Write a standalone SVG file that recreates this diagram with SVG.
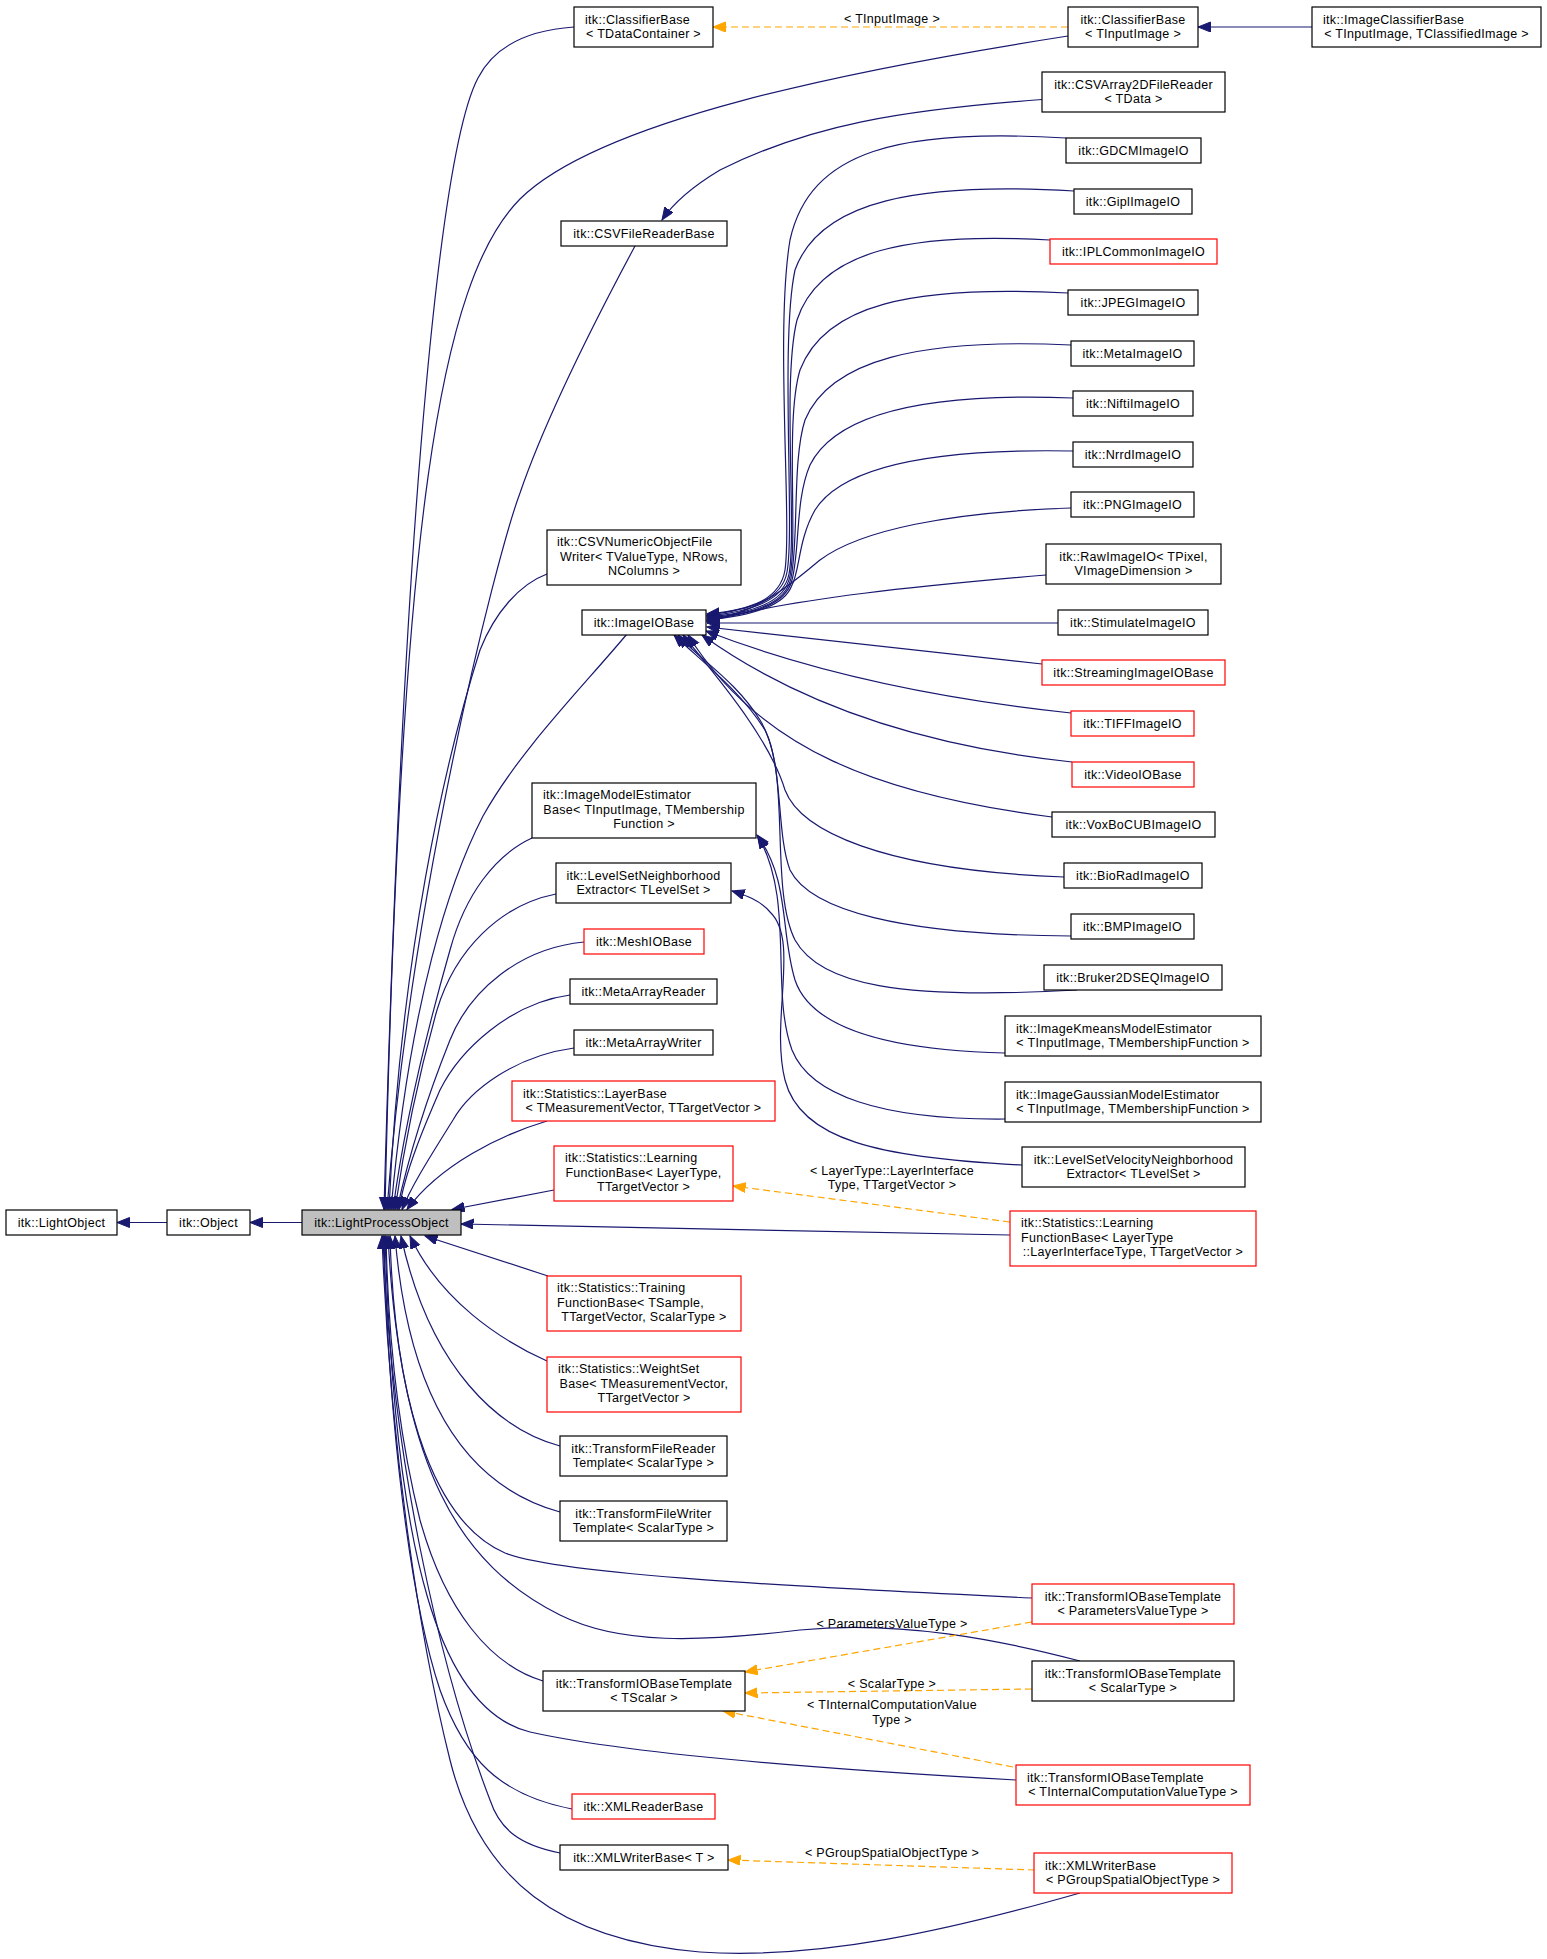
<svg xmlns="http://www.w3.org/2000/svg" width="1547" height="1959" viewBox="0 0 1547 1959">
<defs>
<style>
.node rect{fill:#ffffff;stroke:#000000;stroke-width:1.2}
.node.red rect{stroke:#ff0000}
.node.cur rect{fill:#bfbfbf}
text{font-family:"Liberation Sans",Arial,Helvetica,sans-serif;font-size:12.5px;letter-spacing:0.3px;fill:#000000}
.m{text-anchor:middle}
.s{text-anchor:start}
#edges path{fill:none;stroke:#191970;stroke-width:1.2}
#edges path.d{stroke:#ffa500;stroke-dasharray:7,4}
</style>
<marker id="arr" markerUnits="userSpaceOnUse" markerWidth="14" markerHeight="11" refX="12.5" refY="5" orient="auto"><path d="M0,0 L12.5,5 L0,10 z" fill="#191970" stroke="#191970" stroke-width="1"/></marker>
<marker id="arro" markerUnits="userSpaceOnUse" markerWidth="14" markerHeight="11" refX="12.5" refY="5" orient="auto"><path d="M0,0 L12.5,5 L0,10 z" fill="#ffa500" stroke="#ffa500" stroke-width="1"/></marker>
</defs>
<rect x="0" y="0" width="1547" height="1959" fill="#ffffff"/>
<g id="edges">
<path marker-end="url(#arr)" d="M167,1222.5 L117,1222.5"/>
<path marker-end="url(#arr)" d="M302,1222.5 L250,1222.5"/>
<path marker-end="url(#arr)" d="M1312,27 L1198,27"/>
<path marker-end="url(#arr)" d="M1042,99.5 C900,110 810,125 720,170 C690,188 672,205 662,220"/>
<path marker-end="url(#arr)" d="M574,27 C530,30 495,45 478,78 C445,140 405,450 384,1209.5"/>
<path marker-end="url(#arr)" d="M1068,36 C850,70 600,120 520,199 C440,280 400,520 385,1209.5"/>
<path marker-end="url(#arr)" d="M635,246 C590,330 545,420 520,493 C495,560 410,900 387,1209.5"/>
<path marker-end="url(#arr)" d="M547,574 C520,584 495,612 480,650 C445,760 400,960 389,1209.5"/>
<path marker-end="url(#arr)" d="M627,634 C580,690 520,750 483,816 C450,880 410,1000 391,1209.5"/>
<path marker-end="url(#arr)" d="M532,838 C495,855 465,895 450,950 C430,1020 405,1120 393,1209.5"/>
<path marker-end="url(#arr)" d="M556,894 C500,905 455,950 437,1010 C420,1070 405,1140 395,1209.5"/>
<path marker-end="url(#arr)" d="M584,942 C520,948 470,990 450,1040 C430,1090 410,1150 397,1209.5"/>
<path marker-end="url(#arr)" d="M570,995 C510,1003 460,1050 440,1090 C427,1120 405,1170 399,1209.5"/>
<path marker-end="url(#arr)" d="M574,1048 C515,1056 470,1090 453,1120 C430,1157 412,1185 402,1209.5"/>
<path marker-end="url(#arr)" d="M547,1121 C500,1135 440,1165 407,1209.5"/>
<path marker-end="url(#arr)" d="M554,1190 L452,1209.5"/>
<path marker-end="url(#arr)" d="M1010,1235 C800,1232 600,1226 461,1224"/>
<path marker-end="url(#arr)" d="M548,1276 L425,1236"/>
<path marker-end="url(#arr)" d="M547,1361 C500,1340 440,1300 410,1236"/>
<path marker-end="url(#arr)" d="M560,1446 C500,1430 430,1370 401,1236"/>
<path marker-end="url(#arr)" d="M560,1512 C480,1490 410,1420 395,1236"/>
<path marker-end="url(#arr)" d="M1032,1598 C800,1587 560,1575 505,1553 C440,1525 395,1420 390,1236"/>
<path marker-end="url(#arr)" d="M1080,1661 C1000,1640 900,1620 800,1630 C700,1642 620,1645 560,1615 C460,1565 400,1470 388,1236"/>
<path marker-end="url(#arr)" d="M543,1681 C490,1665 445,1610 420,1520 C400,1440 388,1340 386,1236"/>
<path marker-end="url(#arr)" d="M1016,1780 C800,1768 620,1752 530,1732 C440,1710 395,1560 385,1236"/>
<path marker-end="url(#arr)" d="M572,1809 C500,1795 465,1760 440,1690 C410,1600 388,1420 384,1236"/>
<path marker-end="url(#arr)" d="M560,1853 C520,1845 500,1830 490,1800 C440,1670 390,1450 383,1236"/>
<path marker-end="url(#arr)" d="M1080,1893 C950,1930 820,1960 700,1952 C560,1940 480,1880 450,1760 C420,1640 390,1450 382,1236"/>
<path marker-end="url(#arr)" d="M1066,138 C900,128 810,150 790,240 C775,330 792,520 785,570 C780,600 750,610 707,614"/>
<path marker-end="url(#arr)" d="M1074,191 C920,182 820,200 795,270 C780,340 795,530 787,572 C782,600 750,610 707,615"/>
<path marker-end="url(#arr)" d="M1050,240 C910,232 820,250 797,320 C782,380 797,530 789,574 C784,600 752,612 707,616"/>
<path marker-end="url(#arr)" d="M1068,293 C910,285 825,305 800,370 C785,420 798,535 790,576 C785,602 754,613 707,617"/>
<path marker-end="url(#arr)" d="M1071,345 C920,338 830,360 805,420 C792,460 799,540 791,578 C786,603 755,614 707,618"/>
<path marker-end="url(#arr)" d="M1073,398 C920,392 835,415 810,465 C795,500 800,550 792,580 C786,604 756,614 707,619"/>
<path marker-end="url(#arr)" d="M1073,451 C920,448 840,470 815,510 C798,540 800,570 792,585 C785,605 756,615 707,620"/>
<path marker-end="url(#arr)" d="M1071,508 C950,512 860,530 820,560 C790,585 760,612 707,621"/>
<path marker-end="url(#arr)" d="M1046,575 C930,585 790,598 707,622"/>
<path marker-end="url(#arr)" d="M1058,623 L707,623"/>
<path marker-end="url(#arr)" d="M1042,664 L707,627"/>
<path marker-end="url(#arr)" d="M1071,713 C950,700 820,675 706,631"/>
<path marker-end="url(#arr)" d="M1072,762 C960,750 820,720 702,635"/>
<path marker-end="url(#arr)" d="M1052,817 C880,795 760,750 688,635"/>
<path marker-end="url(#arr)" d="M1064,877 C880,870 800,830 785,790 C770,740 720,680 683,635"/>
<path marker-end="url(#arr)" d="M1071,936 C900,935 810,910 790,870 C775,830 785,760 760,720 C735,680 700,660 678,635"/>
<path marker-end="url(#arr)" d="M1077,990 C900,1000 820,985 795,940 C770,890 790,780 765,730 C740,690 700,660 674,635"/>
<path marker-end="url(#arr)" d="M1005,1053 C880,1050 810,1025 795,980 C780,930 790,880 757,835"/>
<path marker-end="url(#arr)" d="M1005,1119 C880,1120 810,1095 792,1050 C770,990 795,900 758,836"/>
<path marker-end="url(#arr)" d="M1022,1165 C880,1158 800,1140 785,1080 C770,1020 800,940 770,912 C760,900 745,895 732,891"/>
<path class="d" marker-end="url(#arro)" d="M1068,27 L713,27"/>
<path class="d" marker-end="url(#arro)" d="M1010,1222 L733,1186"/>
<path class="d" marker-end="url(#arro)" d="M1032,1622 L745,1672"/>
<path class="d" marker-end="url(#arro)" d="M1032,1689 L745,1693"/>
<path class="d" marker-end="url(#arro)" d="M1013,1767 L723,1711"/>
<path class="d" marker-end="url(#arro)" d="M1035,1870 L728,1860"/>
<text class="m" x="892" y="23">&lt; TInputImage &gt;</text>
<text class="m" x="892" y="1174.5">&lt; LayerType::LayerInterface</text>
<text class="m" x="892" y="1189">Type, TTargetVector &gt;</text>
<text class="m" x="892" y="1628">&lt; ParametersValueType &gt;</text>
<text class="m" x="892" y="1688">&lt; ScalarType &gt;</text>
<text class="m" x="892" y="1709">&lt; TInternalComputationValue</text>
<text class="m" x="892" y="1724">Type &gt;</text>
<text class="m" x="892" y="1857">&lt; PGroupSpatialObjectType &gt;</text>
</g>
<g id="n_lightobject" class="node"><rect x="6" y="1210" width="111" height="25"/><text class="m" x="61.5" y="1227">itk::LightObject</text></g>
<g id="n_object" class="node"><rect x="167" y="1210" width="83" height="25"/><text class="m" x="208.5" y="1227">itk::Object</text></g>
<g id="n_lpo" class="node cur"><rect x="302" y="1210" width="159" height="25"/><text class="m" x="381.5" y="1227">itk::LightProcessObject</text></g>
<g id="n_cb_tdc" class="node"><rect x="574" y="7" width="139" height="40"/><text class="s" x="585" y="23.5">itk::ClassifierBase</text><text class="m" x="643.5" y="38">&lt; TDataContainer &gt;</text></g>
<g id="n_cb_tii" class="node"><rect x="1068" y="7" width="130" height="40"/><text class="m" x="1133" y="23.5">itk::ClassifierBase</text><text class="m" x="1133" y="38">&lt; TInputImage &gt;</text></g>
<g id="n_icb" class="node"><rect x="1312" y="7" width="229" height="40"/><text class="s" x="1323" y="23.5">itk::ImageClassifierBase</text><text class="m" x="1426.5" y="38">&lt; TInputImage, TClassifiedImage &gt;</text></g>
<g id="n_csv2d" class="node"><rect x="1042" y="72" width="183" height="40"/><text class="m" x="1133.5" y="88.5">itk::CSVArray2DFileReader</text><text class="m" x="1133.5" y="103">&lt; TData &gt;</text></g>
<g id="n_csvreader" class="node"><rect x="561" y="221" width="166" height="25"/><text class="m" x="644" y="238">itk::CSVFileReaderBase</text></g>
<g id="n_csvnum" class="node"><rect x="547" y="530" width="194" height="55"/><text class="s" x="557" y="546">itk::CSVNumericObjectFile</text><text class="m" x="644" y="560.5">Writer&lt; TValueType, NRows,</text><text class="m" x="644" y="575">NColumns &gt;</text></g>
<g id="n_imageio" class="node"><rect x="582" y="610" width="124" height="25"/><text class="m" x="644" y="627">itk::ImageIOBase</text></g>
<g id="n_gdcm" class="node"><rect x="1066" y="138" width="135" height="25"/><text class="m" x="1133.5" y="155">itk::GDCMImageIO</text></g>
<g id="n_gipl" class="node"><rect x="1074" y="189" width="118" height="25"/><text class="m" x="1133" y="206">itk::GiplImageIO</text></g>
<g id="n_ipl" class="node red"><rect x="1050" y="239" width="167" height="25"/><text class="m" x="1133.5" y="256">itk::IPLCommonImageIO</text></g>
<g id="n_jpeg" class="node"><rect x="1068" y="290" width="130" height="25"/><text class="m" x="1133" y="307">itk::JPEGImageIO</text></g>
<g id="n_meta" class="node"><rect x="1071" y="341" width="123" height="25"/><text class="m" x="1132.5" y="358">itk::MetaImageIO</text></g>
<g id="n_nifti" class="node"><rect x="1073" y="391" width="120" height="25"/><text class="m" x="1133" y="408">itk::NiftiImageIO</text></g>
<g id="n_nrrd" class="node"><rect x="1073" y="442" width="120" height="25"/><text class="m" x="1133" y="459">itk::NrrdImageIO</text></g>
<g id="n_png" class="node"><rect x="1071" y="492" width="123" height="25"/><text class="m" x="1132.5" y="509">itk::PNGImageIO</text></g>
<g id="n_raw" class="node"><rect x="1046" y="544" width="175" height="40"/><text class="m" x="1133.5" y="560.5">itk::RawImageIO&lt; TPixel,</text><text class="m" x="1133.5" y="575">VImageDimension &gt;</text></g>
<g id="n_stim" class="node"><rect x="1058" y="610" width="150" height="25"/><text class="m" x="1133" y="627">itk::StimulateImageIO</text></g>
<g id="n_stream" class="node red"><rect x="1042" y="660" width="183" height="25"/><text class="m" x="1133.5" y="677">itk::StreamingImageIOBase</text></g>
<g id="n_tiff" class="node red"><rect x="1071" y="711" width="123" height="25"/><text class="m" x="1132.5" y="728">itk::TIFFImageIO</text></g>
<g id="n_video" class="node red"><rect x="1072" y="762" width="122" height="25"/><text class="m" x="1133" y="779">itk::VideoIOBase</text></g>
<g id="n_voxbo" class="node"><rect x="1052" y="812" width="163" height="25"/><text class="m" x="1133.5" y="829">itk::VoxBoCUBImageIO</text></g>
<g id="n_biorad" class="node"><rect x="1064" y="863" width="138" height="25"/><text class="m" x="1133" y="880">itk::BioRadImageIO</text></g>
<g id="n_bmp" class="node"><rect x="1071" y="914" width="123" height="25"/><text class="m" x="1132.5" y="931">itk::BMPImageIO</text></g>
<g id="n_bruker" class="node"><rect x="1044" y="965" width="178" height="25"/><text class="m" x="1133" y="982">itk::Bruker2DSEQImageIO</text></g>
<g id="n_kmeans" class="node"><rect x="1005" y="1016" width="256" height="40"/><text class="s" x="1016" y="1032.5">itk::ImageKmeansModelEstimator</text><text class="m" x="1133" y="1047">&lt; TInputImage, TMembershipFunction &gt;</text></g>
<g id="n_gauss" class="node"><rect x="1005" y="1082" width="256" height="40"/><text class="s" x="1016" y="1098.5">itk::ImageGaussianModelEstimator</text><text class="m" x="1133" y="1113">&lt; TInputImage, TMembershipFunction &gt;</text></g>
<g id="n_lsvel" class="node"><rect x="1022" y="1147" width="223" height="40"/><text class="m" x="1133.5" y="1163.5">itk::LevelSetVelocityNeighborhood</text><text class="m" x="1133.5" y="1178">Extractor&lt; TLevelSet &gt;</text></g>
<g id="n_lfb2" class="node red"><rect x="1010" y="1211" width="246" height="55"/><text class="s" x="1021" y="1227">itk::Statistics::Learning</text><text class="s" x="1021" y="1241.5">FunctionBase&lt; LayerType</text><text class="m" x="1133" y="1256">::LayerInterfaceType, TTargetVector &gt;</text></g>
<g id="n_imest" class="node"><rect x="532" y="783" width="224" height="55"/><text class="s" x="543" y="799">itk::ImageModelEstimator</text><text class="m" x="644" y="813.5">Base&lt; TInputImage, TMembership</text><text class="m" x="644" y="828">Function &gt;</text></g>
<g id="n_lsn" class="node"><rect x="556" y="863" width="175" height="40"/><text class="m" x="643.5" y="879.5">itk::LevelSetNeighborhood</text><text class="m" x="643.5" y="894">Extractor&lt; TLevelSet &gt;</text></g>
<g id="n_mesh" class="node red"><rect x="584" y="929" width="120" height="25"/><text class="m" x="644" y="946">itk::MeshIOBase</text></g>
<g id="n_mar" class="node"><rect x="570" y="979" width="147" height="25"/><text class="m" x="643.5" y="996">itk::MetaArrayReader</text></g>
<g id="n_maw" class="node"><rect x="574" y="1030" width="139" height="25"/><text class="m" x="643.5" y="1047">itk::MetaArrayWriter</text></g>
<g id="n_layer" class="node red"><rect x="512" y="1081" width="263" height="40"/><text class="s" x="523" y="1097.5">itk::Statistics::LayerBase</text><text class="m" x="643.5" y="1112">&lt; TMeasurementVector, TTargetVector &gt;</text></g>
<g id="n_lfb" class="node red"><rect x="554" y="1146" width="179" height="55"/><text class="s" x="565" y="1162">itk::Statistics::Learning</text><text class="m" x="643.5" y="1176.5">FunctionBase&lt; LayerType,</text><text class="m" x="643.5" y="1191">TTargetVector &gt;</text></g>
<g id="n_train" class="node red"><rect x="547" y="1276" width="194" height="55"/><text class="s" x="557" y="1292">itk::Statistics::Training</text><text class="s" x="557" y="1306.5">FunctionBase&lt; TSample,</text><text class="m" x="644" y="1321">TTargetVector, ScalarType &gt;</text></g>
<g id="n_weight" class="node red"><rect x="547" y="1357" width="194" height="55"/><text class="s" x="558" y="1373">itk::Statistics::WeightSet</text><text class="m" x="644" y="1387.5">Base&lt; TMeasurementVector,</text><text class="m" x="644" y="1402">TTargetVector &gt;</text></g>
<g id="n_tfr" class="node"><rect x="560" y="1436" width="167" height="40"/><text class="m" x="643.5" y="1452.5">itk::TransformFileReader</text><text class="m" x="643.5" y="1467">Template&lt; ScalarType &gt;</text></g>
<g id="n_tfw" class="node"><rect x="560" y="1501" width="167" height="40"/><text class="m" x="643.5" y="1517.5">itk::TransformFileWriter</text><text class="m" x="643.5" y="1532">Template&lt; ScalarType &gt;</text></g>
<g id="n_tio_pvt" class="node red"><rect x="1032" y="1584" width="202" height="40"/><text class="m" x="1133" y="1600.5">itk::TransformIOBaseTemplate</text><text class="m" x="1133" y="1615">&lt; ParametersValueType &gt;</text></g>
<g id="n_tio_st" class="node"><rect x="1032" y="1661" width="202" height="40"/><text class="m" x="1133" y="1677.5">itk::TransformIOBaseTemplate</text><text class="m" x="1133" y="1692">&lt; ScalarType &gt;</text></g>
<g id="n_tio_ts" class="node"><rect x="543" y="1671" width="202" height="40"/><text class="m" x="644" y="1687.5">itk::TransformIOBaseTemplate</text><text class="m" x="644" y="1702">&lt; TScalar &gt;</text></g>
<g id="n_tio_ti" class="node red"><rect x="1016" y="1765" width="234" height="40"/><text class="s" x="1027" y="1781.5">itk::TransformIOBaseTemplate</text><text class="m" x="1133" y="1796">&lt; TInternalComputationValueType &gt;</text></g>
<g id="n_xmlr" class="node red"><rect x="572" y="1794" width="143" height="25"/><text class="m" x="643.5" y="1811">itk::XMLReaderBase</text></g>
<g id="n_xmlw" class="node"><rect x="560" y="1845" width="168" height="25"/><text class="m" x="644" y="1862">itk::XMLWriterBase&lt; T &gt;</text></g>
<g id="n_xmlw_pg" class="node red"><rect x="1034" y="1853" width="198" height="40"/><text class="s" x="1045" y="1869.5">itk::XMLWriterBase</text><text class="m" x="1133" y="1884">&lt; PGroupSpatialObjectType &gt;</text></g>
</svg>
